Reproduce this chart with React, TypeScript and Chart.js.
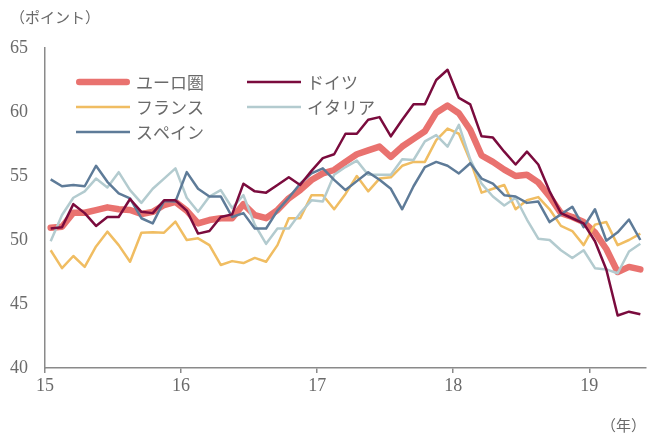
import React, { useEffect, useRef } from "react";
import { Chart, registerables } from "chart.js";

Chart.register(...registerables);

const yearLabels = ["15", "16", "17", "18", "19"];
const monthsPerYear = 12;
const axisMonths = 53;

const seriesNames = ["ユーロ圏", "ドイツ", "フランス", "イタリア", "スペイン"];

const euroArea = [
  50.96, 51.04, 52.13, 52.13, 52.34, 52.55, 52.4, 52.34, 52.03, 52.2, 52.73, 52.98,
  52.3, 51.3, 51.56, 51.7, 51.7, 52.8, 51.95, 51.7, 52.34, 53.26, 53.9, 54.69,
  55.2, 55.47, 56.1, 56.7, 57.0, 57.3, 56.5, 57.3, 57.9, 58.5, 59.95, 60.5,
  59.9, 58.6, 56.6, 56.1, 55.5, 55.0, 55.1, 54.5, 53.4, 52.1, 51.8, 51.4,
  50.6, 49.3, 47.5, 47.9, 47.7,
];
const germany = [
  50.9, 51.0, 52.8, 52.1, 51.1, 51.8, 51.8, 53.2, 52.2, 52.1, 53.1, 53.1,
  52.3, 50.5, 50.7, 51.8, 52.0, 54.4, 53.8, 53.7, 54.3, 54.9, 54.3, 55.4,
  56.4, 56.7, 58.3, 58.3, 59.4, 59.6, 58.1, 59.4, 60.6, 60.6, 62.5, 63.3,
  61.1, 60.6, 58.1, 58.0, 56.9, 55.9, 56.9, 55.9, 53.8, 52.1, 51.7, 51.3,
  49.9, 47.7, 44.1, 44.4, 44.2,
];
const france = [
  49.2, 47.8, 48.75, 47.9, 49.5, 50.65, 49.6, 48.3, 50.57, 50.6, 50.57, 51.43,
  50.0, 50.13, 49.6, 48.05, 48.35, 48.2, 48.6, 48.3, 49.6, 51.7, 51.7, 53.5,
  53.5, 52.4, 53.6, 55.0, 53.8, 54.8, 54.9, 55.8, 56.1, 56.1, 57.8, 58.7,
  58.3, 56.2, 53.7, 54.0, 54.3, 52.4, 53.1, 53.35, 52.4, 51.1, 50.7, 49.6,
  51.2, 51.4, 49.6, 50.0, 50.5,
];
const italy = [
  49.9, 51.95, 53.3, 53.8, 54.8, 54.1, 55.3, 53.9, 52.9, 54.0, 54.8, 55.6,
  53.3, 52.2, 53.4, 53.9, 52.5, 53.5, 51.2, 49.7, 50.9, 50.9, 52.1, 53.1,
  53.0, 55.1, 55.7, 56.2, 55.1, 55.1, 55.1, 56.3, 56.25, 57.7, 58.2, 57.3,
  59.0, 56.3, 54.4, 53.4, 52.7, 53.3, 51.6, 50.1, 50.0, 49.2, 48.6, 49.2,
  47.8, 47.7, 47.4, 49.1, 49.7,
];
const spain = [
  54.74, 54.2, 54.3, 54.2, 55.8, 54.55, 53.65, 53.26, 51.7, 51.3, 53.05, 53.0,
  55.3, 54.0, 53.4, 53.4, 51.8, 52.1, 50.9, 50.9, 52.3, 53.3, 54.4, 55.2,
  55.6, 54.7, 53.9, 54.6, 55.3, 54.7, 54.0, 52.4, 54.2, 55.7, 56.1, 55.8,
  55.2, 56.0, 54.8, 54.4, 53.5, 53.4, 52.9, 53.0, 51.4, 52.0, 52.6, 51.0,
  52.4, 49.95, 50.6, 51.6, 50.0,
];

const seriesValues = [euroArea, germany, france, italy, spain];
const seriesColors = ["#E9726F", "#7A0B3D", "#F0BD62", "#B3CBCF", "#5E7B98"];
const seriesWidths = [6.5, 2.5, 2.5, 2.5, 2.5];
const seriesOrder = [10, 1, 4, 3, 2];

const TEXT_GRAY = "#6a6a6a";
const AXIS_GRAY = "#8a8a8a";
const SERIF = "'Liberation Serif', 'Noto Sans CJK JP', serif";
const JP = "'Noto Sans CJK JP', sans-serif";

const overlayPlugin = {
  id: "overlayTexts",
  afterDraw(chart: any) {
    const ctx = chart.ctx;
    ctx.save();
    ctx.fillStyle = TEXT_GRAY;
    ctx.textBaseline = "middle";
    ctx.font = `15px ${JP}`;
    ctx.textAlign = "left";
    ctx.fillText("（ポイント）", 10, 17);
    ctx.textAlign = "right";
    ctx.fillText("（年）", 646, 425);

    const cols = [76, 247];
    const rows = [82, 107, 132];
    const lineLen = 54;
    chart.data.datasets.forEach((ds: any, i: number) => {
      const x = cols[i % 2];
      const y = rows[Math.floor(i / 2)];
      const w = ds.borderWidth;
      ctx.beginPath();
      ctx.strokeStyle = ds.borderColor;
      ctx.lineWidth = w;
      if (i === 0) {
        ctx.lineCap = "round";
        ctx.moveTo(x + w / 2, y);
        ctx.lineTo(x + lineLen - w / 2, y);
      } else {
        ctx.lineCap = "butt";
        ctx.moveTo(x, y);
        ctx.lineTo(x + lineLen, y);
      }
      ctx.stroke();
      ctx.font = `17px ${JP}`;
      ctx.fillStyle = TEXT_GRAY;
      ctx.textAlign = "left";
      ctx.fillText(ds.label, x + lineLen + 6, y + 1);
    });
    ctx.restore();
  },
};

export default function App() {
  const canvasRef = useRef<HTMLCanvasElement | null>(null);

  useEffect(() => {
    document.body.style.margin = "0";
    const canvas = canvasRef.current;
    if (!canvas) return;
    const datasets = seriesValues.map((vals, s) => ({
      label: seriesNames[s],
      data: vals.map((v, i) => ({ x: i + 0.5, y: v })),
      borderColor: seriesColors[s],
      backgroundColor: seriesColors[s],
      borderWidth: seriesWidths[s],
      pointRadius: 0,
      tension: 0,
      fill: false,
      order: seriesOrder[s],
      borderJoinStyle: "round" as const,
      borderCapStyle: s === 0 ? ("round" as const) : ("butt" as const),
    }));

    const chart = new Chart(canvas, {
      type: "line",
      data: { datasets },
      plugins: [overlayPlugin],
      options: {
        animation: false,
        responsive: false,
        devicePixelRatio: 1,
        layout: { padding: { top: 48, right: 1, left: 0, bottom: 0 } },
        plugins: { legend: { display: false }, tooltip: { enabled: false } },
        scales: {
          x: {
            type: "linear",
            min: 0,
            max: axisMonths,
            afterFit: (scale: any) => {
              scale.height = 72;
            },
            afterBuildTicks: (scale: any) => {
              scale.ticks = yearLabels.map((_, k) => ({ value: k * monthsPerYear }));
            },
            grid: {
              drawOnChartArea: false,
              drawTicks: true,
              tickLength: 5,
              color: AXIS_GRAY,
              lineWidth: 1.5,
            },
            border: { display: true, color: AXIS_GRAY, width: 1.5 },
            ticks: {
              autoSkip: false,
              maxRotation: 0,
              padding: 2,
              color: TEXT_GRAY,
              font: { family: SERIF, size: 18 },
              callback: (v: any) => yearLabels[Math.round(Number(v) / monthsPerYear)] ?? "",
            },
          },
          y: {
            min: 40,
            max: 65,
            afterFit: (scale: any) => {
              scale.width = 45;
            },
            grid: { display: false, drawTicks: false },
            border: { display: true, color: AXIS_GRAY, width: 1.5 },
            ticks: {
              stepSize: 5,
              padding: 17,
              color: TEXT_GRAY,
              font: { family: SERIF, size: 18 },
            },
          },
        },
      },
    });
    return () => chart.destroy();
  }, []);

  return (
    <div style={{ width: 647, height: 440, position: "relative", background: "#fff" }}>
      <canvas ref={canvasRef} width={647} height={440} style={{ display: "block" }} />
    </div>
  );
}
